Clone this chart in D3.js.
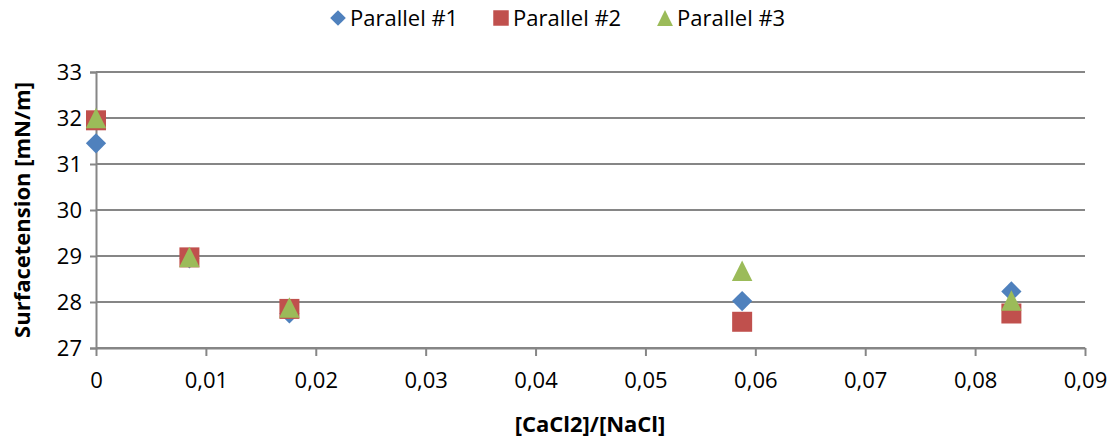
<!DOCTYPE html>
<html>
<head>
<meta charset="utf-8">
<script src="https://cdn.jsdelivr.net/npm/d3@7"></script>
<style>
  body { margin: 0; background: #fff; }
  text { font-family: "Open Sans", sans-serif; fill: #000; }
</style>
</head>
<body>
<svg width="1113" height="439"></svg>
<script>
const WIDTH = 1113;
const HEIGHT = 439;
const MARGIN = {top: 72, right: 28, bottom: 91, left: 96};
const GRID_COLOR = '#868686';
const FONT = '"Open Sans", sans-serif';

// data
const xValues = [0, 0.0085, 0.0176, 0.0588, 0.0833];
const parallel1 = [31.45, 28.95, 27.75, 28.02, 28.23];
const parallel2 = [31.95, 28.97, 27.85, 27.57, 27.75];
const parallel3 = [32.0, 28.98, 27.88, 28.68, 28.03];
const seriesNames = ['Parallel #1', 'Parallel #2', 'Parallel #3'];
const seriesColors = ['#4F81BD', '#C0504D', '#9BBB59'];
const xTicks = [0, 0.01, 0.02, 0.03, 0.04, 0.05, 0.06, 0.07, 0.08, 0.09];
const yTicks = [27, 28, 29, 30, 31, 32, 33];

// triangle centred on its box, as the spreadsheet draws it
const boxTriangle = {
    draw(ctx, size) {
        const r = Math.sqrt(size) / 2;
        ctx.moveTo(0, -r);
        ctx.lineTo(r, r);
        ctx.lineTo(-r, r);
        ctx.closePath();
    }
};

const series = [parallel1, parallel2, parallel3];
// diamond = square turned 45 degrees
const symbols = [d3.symbolSquare, d3.symbolSquare, boxTriangle];
const rotations = [45, 0, 0];
const symbolSizes = [205, 400, 420];

const innerW = WIDTH - MARGIN.left - MARGIN.right;
const innerH = HEIGHT - MARGIN.top - MARGIN.bottom;

const svg = d3.select('svg');
const g = svg.append('g')
    .attr('transform', 'translate(' + MARGIN.left + ',' + MARGIN.top + ')');

const x = d3.scaleLinear().domain([0, 0.09]).range([0, innerW]);
const y = d3.scaleLinear().domain([27, 33]).range([innerH, 0]);

const fmt = (d) => d === 0 ? '0' : d3.format('.2f')(d).replace('.', ',');

/* horizontal gridlines */
g.append('g')
    .selectAll('line')
    .data(yTicks)
    .join('line')
    .attr('x1', 0)
    .attr('x2', innerW)
    .attr('y1', (d) => y(d))
    .attr('y2', (d) => y(d))
    .attr('stroke', GRID_COLOR)
    .attr('stroke-width', 2);

/* Y axis */
const yAxis = g.append('g')
    .call(d3.axisLeft(y).tickValues(yTicks).tickSize(6).tickPadding(8).tickFormat(d3.format('d')));
yAxis.select('.domain').attr('stroke', GRID_COLOR).attr('stroke-width', 2);
yAxis.selectAll('.tick line').attr('stroke', GRID_COLOR).attr('stroke-width', 2);
yAxis.selectAll('.tick text').attr('font-size', 22).attr('font-family', FONT);

/* X axis */
const xAxis = g.append('g')
    .attr('transform', 'translate(0,' + innerH + ')')
    .call(d3.axisBottom(x).tickValues(xTicks).tickSize(8).tickSizeOuter(0).tickPadding(16).tickFormat(fmt));
xAxis.select('.domain').attr('stroke', GRID_COLOR).attr('stroke-width', 2);
xAxis.selectAll('.tick line').attr('stroke', GRID_COLOR).attr('stroke-width', 2);
xAxis.selectAll('.tick text').attr('font-size', 22).attr('font-family', FONT);

/* markers */
series.forEach((vals, i) => {
    g.append('g')
        .selectAll('path')
        .data(vals.map((v, j) => [xValues[j], v]))
        .join('path')
        .attr('transform', (d) => 'translate(' + x(d[0]) + ',' + y(d[1]) + ') rotate(' + rotations[i] + ')')
        .attr('d', d3.symbol().type(symbols[i]).size(symbolSizes[i]))
        .attr('fill', seriesColors[i]);
});

/* axis titles */
svg.append('text')
    .attr('x', 590)
    .attr('y', 432)
    .attr('text-anchor', 'middle')
    .attr('font-size', 22)
    .attr('font-weight', 'bold')
    .text('[CaCl2]/[NaCl]');

svg.append('text')
    .attr('transform', 'translate(30,' + (MARGIN.top + innerH / 2) + ') rotate(-90)')
    .attr('text-anchor', 'middle')
    .attr('font-size', 22)
    .attr('font-weight', 'bold')
    .text('Surfacetension [mN/m]');

/* legend */
const legendX = [338, 501, 665];
const legend = svg.append('g');
seriesNames.forEach((name, i) => {
    legend.append('path')
        .attr('transform', 'translate(' + legendX[i] + ',18) rotate(' + rotations[i] + ')')
        .attr('d', d3.symbol().type(symbols[i]).size(symbolSizes[i] * 0.6))
        .attr('fill', seriesColors[i]);
    legend.append('text')
        .attr('x', legendX[i] + 12)
        .attr('y', 26)
        .attr('font-size', 22)
        .text(name);
});
</script>
</body>
</html>
